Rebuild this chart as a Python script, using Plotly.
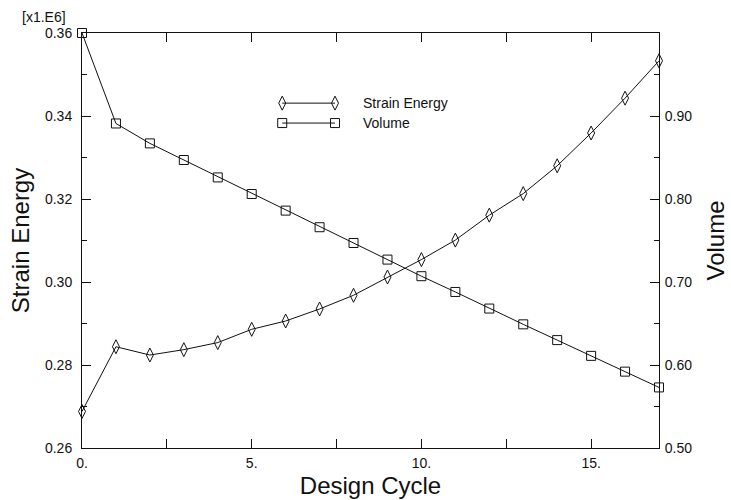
import plotly.graph_objects as go

# Optimisation history
design_cycle = list(range(18))
strain_energy = [0.2688, 0.2844, 0.2824, 0.2837, 0.2854, 0.2886, 0.2906, 0.2935,
                 0.2968, 0.3012, 0.3054, 0.3101, 0.3161, 0.3213, 0.3280, 0.3359,
                 0.3443, 0.3533]
volume = [1.000, 0.891, 0.867, 0.847, 0.826, 0.806, 0.786, 0.766, 0.747, 0.727,
          0.707, 0.688, 0.668, 0.649, 0.630, 0.611, 0.592, 0.573]

x_tick_vals = [0, 5, 10, 15]
x_tick_text = ["0.", "5.", "10.", "15."]
se_tick_vals = [0.26, 0.28, 0.30, 0.32, 0.34, 0.36]
vol_tick_vals = [0.50, 0.60, 0.70, 0.80, 0.90]

FONT = "Liberation Sans, Arial, Helvetica, sans-serif"
INK = "#111111"

line_style = dict(color=INK, width=1)
se_marker = dict(symbol="diamond-tall-open", size=10, color=INK, line=dict(width=1, color=INK))
vol_marker = dict(symbol="square-open", size=9, color=INK, line=dict(width=1, color=INK))

fig = go.Figure()

fig.add_trace(go.Scatter(x=design_cycle, y=strain_energy, mode="lines+markers",
                         name="Strain Energy", line=line_style, marker=se_marker,
                         cliponaxis=False, showlegend=False))
fig.add_trace(go.Scatter(x=design_cycle, y=volume, mode="lines+markers",
                         name="Volume", line=line_style, marker=vol_marker,
                         yaxis="y2", cliponaxis=False, showlegend=False))

# Legend keys drawn on a hidden unit overlay so each key shows a marker at both ends
key_x = [0.347, 0.4385]
key_rows = [("Strain Energy", se_marker, 0.831), ("Volume", vol_marker, 0.783)]
for label, mk, ky in key_rows:
    fig.add_trace(go.Scatter(x=key_x, y=[ky, ky], mode="lines+markers", line=line_style,
                             marker=mk, xaxis="x3", yaxis="y3", showlegend=False,
                             hoverinfo="skip", cliponaxis=False))
    fig.add_annotation(x=0.484, y=ky, xref="paper", yref="paper", text=label,
                       showarrow=False, xanchor="left", yanchor="middle",
                       font=dict(family=FONT, size=14, color=INK))

fig.add_annotation(x=-0.108, y=1.015, xref="paper", yref="paper", text="[x1.E6]",
                   showarrow=False, xanchor="left", yanchor="bottom",
                   font=dict(family=FONT, size=14, color=INK))

axis_common = dict(showline=True, linecolor=INK, linewidth=1, ticks="inside",
                   tickcolor=INK, tickwidth=1, ticklen=9, showgrid=False, zeroline=False,
                   automargin=False,
                   tickfont=dict(family=FONT, size=14, color=INK))
title_font = dict(family=FONT, size=24, color=INK)

fig.update_layout(
    width=731, height=500,
    margin=dict(l=82, r=72, t=33, b=52),
    paper_bgcolor="white", plot_bgcolor="white",
    font=dict(family=FONT, color=INK),
    xaxis=dict(range=[0, 17], tickvals=x_tick_vals, ticktext=x_tick_text, mirror="allticks",
               minor=dict(ticks="inside", ticklen=5, tickcolor=INK, tick0=0, dtick=2.5),
               title=dict(text="Design Cycle", font=title_font, standoff=7),
               ticklabelstandoff=2,
               **axis_common),
    yaxis=dict(range=[0.26, 0.36], tickvals=se_tick_vals, tickformat=".2f",
               minor=dict(ticks="inside", ticklen=5, tickcolor=INK, tick0=0.26, dtick=0.01),
               title=dict(text="Strain Energy", font=title_font, standoff=8),
               ticklabelstandoff=6,
               **axis_common),
    yaxis2=dict(range=[0.5, 1.0], tickvals=vol_tick_vals, tickformat=".2f", overlaying="y",
                side="right", anchor="x",
                minor=dict(ticks="inside", ticklen=5, tickcolor=INK, tick0=0.5, dtick=0.05),
                title=dict(text="Volume", font=title_font, standoff=15),
                ticklabelstandoff=2,
                **axis_common),
    xaxis3=dict(domain=[0, 1], range=[0, 1], visible=False, anchor="y3", overlaying="x"),
    yaxis3=dict(domain=[0, 1], range=[0, 1], visible=False, anchor="x3", overlaying="y"),
)

fig.write_html("out.html")
